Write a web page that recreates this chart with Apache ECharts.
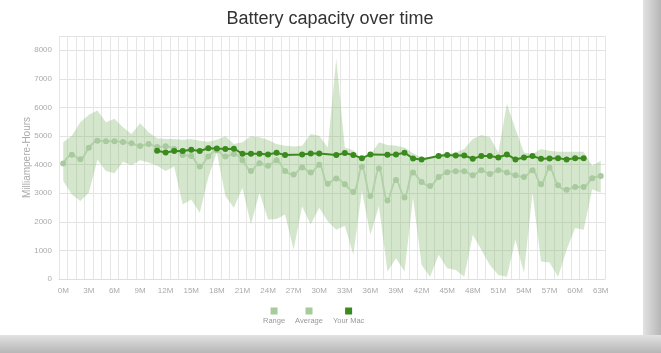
<!DOCTYPE html>
<html><head><meta charset="utf-8">
<script src="https://cdn.jsdelivr.net/npm/echarts@6/dist/echarts.min.js"></script>
<style>
html,body{margin:0;padding:0;width:661px;height:353px;overflow:hidden;background:#fff;}
#right{position:absolute;left:643px;top:0;width:18px;height:353px;background:linear-gradient(to right,#e2e2e2,#b6b6b6);}
#bottom{position:absolute;left:0;top:335px;width:661px;height:18px;background:linear-gradient(to bottom,#e2e2e2,#b6b6b6);}
#chart{position:absolute;left:0;top:0;width:643px;height:335px;background:#fff;}
</style></head>
<body><div id="right"></div><div id="bottom"></div><div id="chart"></div>
<script>
var months = ['0M','1M','2M','3M','4M','5M','6M','7M','8M','9M','10M','11M','12M','13M','14M','15M','16M','17M','18M','19M','20M','21M','22M','23M','24M','25M','26M','27M','28M','29M','30M','31M','32M','33M','34M','35M','36M','37M','38M','39M','40M','41M','42M','43M','44M','45M','46M','47M','48M','49M','50M','51M','52M','53M','54M','55M','56M','57M','58M','59M','60M','61M','62M','63M'];

var rangeLower = [3430,2960,2725,3019,4170,3782,3700,4099,3982,4158,4076,3958,3782,3935,2607,2784,2314,3547,4430,2901,2490,3195,1903,3019,2079,2102,2255,1022,2549,1903,2490,2020,1727,1867,846,3077,1550,2549,258,728,258,2842,493,82,846,376,317,82,1550,1022,493,141,82,1374,200,3019,611,575,82,1022,1785,1727,3136,3019];

var rangeUpper = [4780,5015,5485,5743,5896,5485,5603,5309,5074,5450,5133,4921,4898,4898,4870,4898,4840,4800,4874,4992,4722,4780,4992,4957,4862,4722,4663,4639,4663,5074,5015,4604,7717,4604,4500,4200,4334,4780,4686,4663,4600,4400,4252,4252,4369,4369,4428,4545,4898,5039,4957,4428,6131,5250,4428,4369,4545,4487,4450,4450,4450,4450,3958,4134];

var average = [4040,4346,4193,4592,4839,4815,4815,4792,4745,4651,4722,4620,4640,4545,4334,4299,3935,4287,4500,4287,4369,4158,3782,4052,3958,4158,3782,3653,3900,3723,3993,3336,3512,3312,3042,3923,2901,3864,2748,3465,2854,3723,3394,3253,3571,3735,3770,3770,3629,3806,3676,3806,3723,3629,3571,3806,3312,3888,3277,3124,3218,3218,3524,3606];

var yourMac = [null,null,null,null,null,null,null,null,null,null,null,4487,4428,4475,4475,4522,4480,4575,4569,4545,4557,4381,4381,4381,4357,4416,4334,null,4357,4393,4393,null,4334,4405,4334,4228,4357,null,4346,4357,4416,4217,4181,null,4299,4334,4322,4322,4205,4299,4299,4252,4357,4181,4252,4299,4205,4217,4228,4181,4228,4228,null,null];

var yTicks = [0,1000,2000,3000,4000,5000,6000,7000,8000];

var rangeSpan = rangeUpper.map(function(u,i){ return u - rangeLower[i]; });

var FONT = '"Liberation Sans", Arial, sans-serif';
var chart = echarts.init(document.getElementById('chart'), null, {renderer:'canvas'});
var keys = {'Range':'a','Average':'b','Your Mac':'c'};
chart.setOption({
  animation: false,
  textStyle: {fontFamily: FONT},
  title: {
    text: 'Battery capacity over time',
    left: 330, top: 10, padding: 0, textAlign: 'center',
    textStyle: {fontSize: 18, fontWeight: 'normal', color: '#333', fontFamily: FONT}
  },
  legend: {
    data: ['Range','Average','Your Mac'],
    left: 258, top: 305, padding: 0, itemGap: 5,
    itemWidth: 0, itemHeight: 0, icon: 'rect',
    formatter: function(name){ return '{' + keys[name] + '|}\n{t|' + name + '}'; },
    textStyle: {
      fontFamily: FONT,
      rich: {
        a: {width: 7, height: 7, backgroundColor: '#a8cb9c', align: 'center'},
        b: {width: 7, height: 7, backgroundColor: '#a8cb9c', align: 'center'},
        c: {width: 7, height: 7, backgroundColor: '#3b8a1e', align: 'center'},
        t: {fontSize: 7.5, color: '#999', align: 'center', lineHeight: 12, fontFamily: FONT}
      }
    }
  },
  grid: {left: 59, right: 38, top: 36, bottom: 56, containLabel: false},
  xAxis: {
    type: 'category', data: months, boundaryGap: true,
    axisLine: {show: true, lineStyle: {color: '#dedede'}},
    axisTick: {show: false},
    axisLabel: {interval: 2, color: '#aaa', fontSize: 8, margin: 8, fontFamily: FONT},
    splitLine: {show: true, interval: 0, lineStyle: {color: '#e6e6e6', width: 1}}
  },
  yAxis: {
    type: 'value', min: 0, max: 8500, interval: 1000,
    name: 'Milliampere-Hours', nameLocation: 'middle', nameGap: 27, nameMoveOverlap: false,
    nameTextStyle: {color: '#aaa', fontSize: 10, fontFamily: FONT},
    axisLine: {show: false}, axisTick: {show: false},
    axisLabel: {color: '#aaa', fontSize: 8, margin: 7, fontFamily: FONT,
      formatter: function(v){ return yTicks.indexOf(v) >= 0 ? String(v) : ''; }},
    splitLine: {show: true, lineStyle: {color: '#e3e3e3', width: 1}}
  },
  series: [
    {name: 'lower', type: 'line', stack: 'range', data: rangeLower, symbol: 'none',
     lineStyle: {opacity: 0}, silent: true, z: 1},
    {name: 'Range', type: 'line', stack: 'range', data: rangeSpan, symbol: 'none',
     itemStyle: {color: '#a8cb9c'},
     lineStyle: {opacity: 0}, areaStyle: {color: 'rgba(120,180,100,0.32)', opacity: 1}, z: 1},
    {name: 'Average', type: 'line', data: average, smooth: 0.35,
     symbol: 'circle', symbolSize: 6, showSymbol: true, showAllSymbol: true,
     itemStyle: {color: '#a9c99e'},
     lineStyle: {color: '#b3d1a9', width: 2}, z: 2},
    {name: 'Your Mac', type: 'line', data: yourMac, connectNulls: true,
     symbol: 'circle', symbolSize: 6, showSymbol: true, showAllSymbol: true,
     itemStyle: {color: '#3b8a1e'},
     lineStyle: {color: '#3b8a1e', width: 2}, z: 3}
  ]
});
</script>
</body></html>
